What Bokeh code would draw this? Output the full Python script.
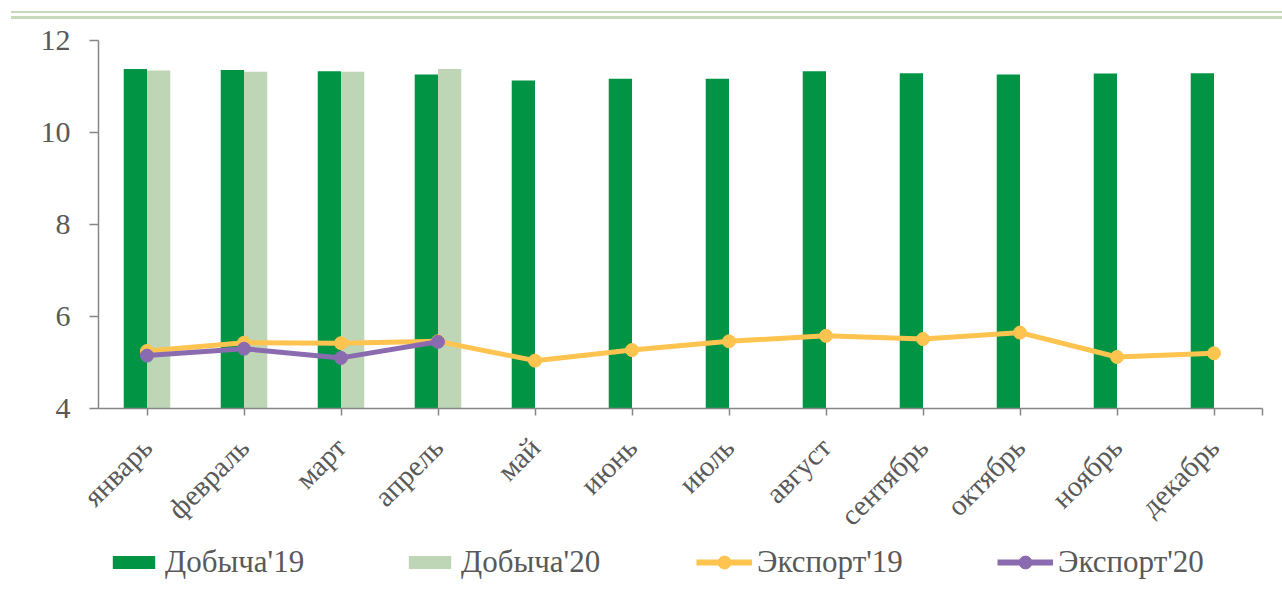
import math
from bokeh.plotting import figure
from bokeh.models import FixedTicker, Legend, LegendItem, Div
from bokeh.layouts import column
from bokeh.embed import file_html
from bokeh.resources import INLINE

months = ["январь", "февраль", "март", "апрель", "май", "июнь", "июль",
          "август", "сентябрь", "октябрь", "ноябрь", "декабрь"]
dob19 = [11.38, 11.36, 11.33, 11.26, 11.13, 11.17, 11.17, 11.33, 11.29, 11.26, 11.28, 11.29]
dob20 = [11.35, 11.32, 11.32, 11.38]
exp19 = [5.25, 5.43, 5.42, 5.46, 5.04, 5.27, 5.46, 5.58, 5.51, 5.65, 5.12, 5.20]
exp20 = [5.15, 5.30, 5.10, 5.45]
y_ticks = [4, 6, 8, 10, 12]
series_names = ["Добыча'19", "Добыча'20", "Экспорт'19", "Экспорт'20"]

DARK = "#009444"
LIGHT = "#bfd6b6"
YEL = "#ffc34f"
PUR = "#8b6bb0"
GRAY = "#595959"
AX = "#868686"
FONT = "Liberation Serif"

x_all = list(range(len(months)))
x20 = list(range(len(dob20)))

p = figure(width=1282, height=523, x_range=(-0.5, 11.5), y_range=(4, 12),
           output_backend="svg", toolbar_location=None,
           min_border_left=98, min_border_right=20, min_border_top=18,
           min_border_bottom=136)
p.outline_line_color = None
p.grid.visible = False

p.vbar(x=[x - 0.12 for x in x_all], top=dob19, bottom=4, width=0.24,
       fill_color=DARK, line_color=None)
p.vbar(x=[x + 0.12 for x in x20], top=dob20, bottom=4, width=0.24,
       fill_color=LIGHT, line_color=None)
p.line(x_all, exp19, line_color=YEL, line_width=5)
p.scatter(x_all, exp19, size=13, fill_color=YEL, line_color=YEL)
p.line(x20, exp20, line_color=PUR, line_width=5)
p.scatter(x20, exp20, size=13, fill_color=PUR, line_color=PUR)

# axes
p.yaxis.ticker = FixedTicker(ticks=y_ticks)
p.yaxis.minor_tick_line_color = None
p.yaxis.major_tick_out = 9
p.yaxis.major_tick_in = 0
p.yaxis.axis_line_color = AX
p.yaxis.axis_line_width = 1.5
p.yaxis.major_tick_line_color = AX
p.yaxis.major_tick_line_width = 1.5
p.yaxis.major_label_text_font = FONT
p.yaxis.major_label_text_font_size = "30px"
p.yaxis.major_label_text_color = GRAY
p.yaxis.major_label_standoff = 19

xt = x_all + [11.5]
p.xaxis.ticker = FixedTicker(ticks=xt)
overrides = {float(i): m for i, m in enumerate(months)}
overrides[11.5] = ""
p.xaxis.major_label_overrides = overrides
p.xaxis.minor_tick_line_color = None
p.xaxis.major_tick_out = 7
p.xaxis.major_tick_in = 0
p.xaxis.axis_line_color = AX
p.xaxis.axis_line_width = 1.5
p.xaxis.major_tick_line_color = AX
p.xaxis.major_tick_line_width = 1.5
p.xaxis.major_label_orientation = math.pi / 4
p.xaxis.major_label_text_font = FONT
p.xaxis.major_label_text_font_size = "29px"
p.xaxis.major_label_text_color = GRAY
p.xaxis.major_label_standoff = 27

# legend strip (separate figure so that the legend is not clipped);
# proxy renderers sit outside the visible range and only feed the legend
lp = figure(width=1282, height=47, x_range=(0, 1), y_range=(0, 1),
            output_backend="svg", toolbar_location=None,
            x_axis_location=None, y_axis_location=None,
            min_border_left=0, min_border_right=0, min_border_top=0,
            min_border_bottom=0)
lp.outline_line_color = None
lp.grid.visible = False
off = [-10]
r1 = lp.vbar(x=off, top=off, bottom=off, width=0.1, fill_color=DARK, line_color=None)
r2 = lp.vbar(x=off, top=off, bottom=off, width=0.1, fill_color=LIGHT, line_color=None)
r3l = lp.line(x=off, y=off, line_color=YEL, line_width=6)
r3s = lp.scatter(x=off, y=off, size=13, fill_color=YEL, line_color=YEL)
r4l = lp.line(x=off, y=off, line_color=PUR, line_width=6)
r4s = lp.scatter(x=off, y=off, size=13, fill_color=PUR, line_color=PUR)

FRAME_LEFT = 98

def mk_legend(label, rends, x, gw, gh):
    lg = Legend(items=[LegendItem(label=label, renderers=rends)],
                location=(x - FRAME_LEFT, 12), orientation="horizontal",
                glyph_width=gw, glyph_height=gh, label_standoff=5,
                padding=0, margin=0, border_line_color=None,
                background_fill_alpha=0,
                label_text_font=FONT, label_text_font_size="31px",
                label_text_color=GRAY)
    lp.add_layout(lg, "center")

mk_legend(series_names[0], [r1], 107, 53, 16)
mk_legend(series_names[1], [r2], 403, 53, 16)
mk_legend(series_names[2], [r3l, r3s], 696, 56, 32)
mk_legend(series_names[3], [r4l, r4s], 997, 56, 32)

top = Div(text='<div style="width:1271px;height:2px;background:#c3d9b9;margin-left:11px;margin-top:11px"></div>'
               '<div style="width:1271px;height:3px;background:#c3d9b9;margin-left:11px;margin-top:3px"></div>',
          width=1282, height=22, margin=0)

layout = column(top, p, lp, spacing=0)
open("out.html", "w").write(file_html(layout, INLINE))
